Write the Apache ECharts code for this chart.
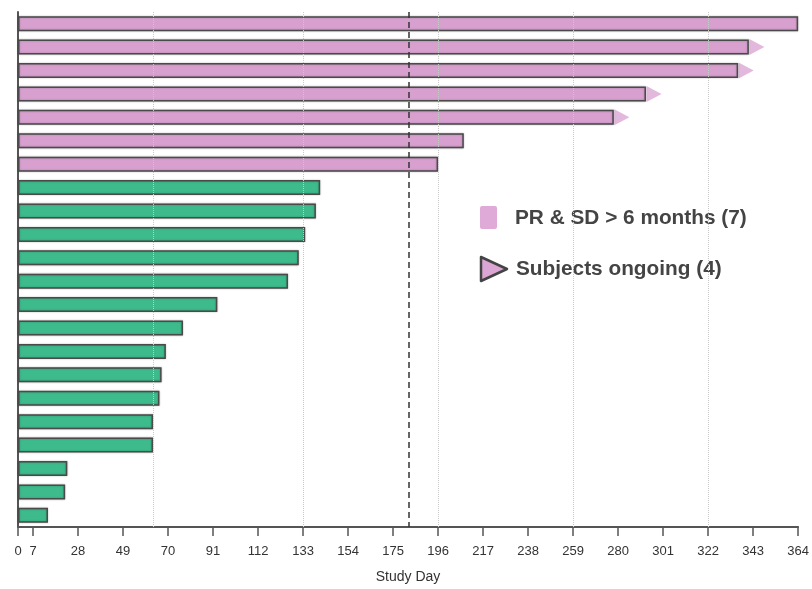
<!DOCTYPE html>
<html>
<head>
<meta charset="utf-8">
<script src="https://cdn.jsdelivr.net/npm/echarts@6/dist/echarts.min.js"></script>
<style>
html,body{margin:0;padding:0;background:#fff;}
#chart{width:812px;height:589px;}
</style>
</head>
<body>
<div id="chart"></div>
<script>
// Subjects, top to bottom
var subjects = ['S1','S2','S3','S4','S5','S6','S7','S8','S9','S10','S11','S12','S13','S14','S15','S16','S17','S18','S19','S20','S21','S22'];
// Duration (study day) for PR & SD > 6 months (pink), null otherwise
var longResponders = [364, 341, 336, 293, 278, 208, 196, null, null, null, null, null, null, null, null, null, null, null, null, null, null, null];
// Duration for other subjects (green)
var otherSubjects = [null, null, null, null, null, null, null, 141, 139, 134, 131, 126, 93, 77, 69, 67, 66, 63, 63, 23, 22, 14];
// Subjects ongoing (1 = ongoing)
var ongoing = [0, 1, 1, 1, 1, 0, 0, 0, 0, 0, 0, 0, 0, 0, 0, 0, 0, 0, 0, 0, 0, 0];
// Tick labels on x axis
var xTicks = [0, 7, 28, 49, 70, 91, 112, 133, 154, 175, 196, 217, 238, 259, 280, 301, 322, 343, 364];
// Dotted reference lines and 6-month dashed line
var gridDays = [63, 133, 196, 259, 322];
var sixMonths = 182.5;

var ongoingPoints = [];
for (var i = 0; i < subjects.length; i++) {
  if (ongoing[i]) {
    var v = longResponders[i] != null ? longResponders[i] : otherSubjects[i];
    ongoingPoints.push([v, subjects[i]]);
  }
}

var PINK = '#d7a0cf';
var GREEN = '#3dbb8c';
var BORDER = '#4a4a4a';

var chart = echarts.init(document.getElementById('chart'), null, {renderer: 'canvas'});
chart.setOption({
  animation: false,
  backgroundColor: '#fff',
  grid: {left: 18, right: 13, top: 12, bottom: 61, containLabel: false},
  xAxis: {
    type: 'value', min: 0, max: 364, interval: 7,
    name: 'Study Day', nameLocation: 'middle', nameGap: 43,
    nameTextStyle: {fontFamily: 'Liberation Sans', fontSize: 14, color: '#333'},
    axisLine: {show: true, lineStyle: {color: '#555', width: 2}},
    axisTick: {show: true, length: 9, customValues: xTicks, lineStyle: {color: '#555', width: 1.5}},
    axisLabel: {customValues: xTicks, margin: 18, fontFamily: 'Liberation Sans', fontSize: 13, color: '#333'},
    splitLine: {show: false}
  },
  yAxis: {
    type: 'category', data: subjects, inverse: true,
    axisLine: {show: true, lineStyle: {color: '#555', width: 2}},
    axisTick: {show: false},
    axisLabel: {show: false},
    splitLine: {show: false}
  },
  series: [
    {
      type: 'bar', data: longResponders, barWidth: 15, barGap: '-100%',
      itemStyle: {color: PINK, borderColor: BORDER, borderWidth: 1.5, shadowColor: 'rgba(0,0,0,0.25)', shadowBlur: 2}
    },
    {
      type: 'bar', data: otherSubjects, barWidth: 15, barGap: '-100%',
      itemStyle: {color: GREEN, borderColor: BORDER, borderWidth: 1.5, shadowColor: 'rgba(0,0,0,0.25)', shadowBlur: 2},
      markLine: {
        silent: true, symbol: 'none', z: 10,
        label: {show: false},
        data: gridDays.map(function (d) { return {xAxis: d, lineStyle: {type: 'dotted', color: '#c8c8c8', width: 1}}; })
          .concat([{xAxis: sixMonths, lineStyle: {type: [6, 4], color: '#333', width: 1.5}}])
      }
    },
    {
      type: 'scatter', data: ongoingPoints, symbol: 'triangle', symbolRotate: -90,
      symbolSize: [16, 15], symbolOffset: [8, 0],
      itemStyle: {color: '#dba6d4'}, z: 1
    }
  ],
  graphic: [
    {type: 'rect', left: 480, top: 206, shape: {width: 17, height: 23, r: 2}, style: {fill: '#e0aad8'}},
    {type: 'text', x: 515, y: 218, style: {text: 'PR & SD > 6 months (7)', font: 'bold 20.8px "Liberation Sans"', fill: '#444', textVerticalAlign: 'middle'}},
    {type: 'polygon', shape: {points: [[481, 257], [507, 269], [481, 281]]}, style: {fill: '#dba6d4', stroke: '#444', lineWidth: 2.5, lineJoin: 'round'}},
    {type: 'text', x: 516, y: 269, style: {text: 'Subjects ongoing (4)', font: 'bold 20.8px "Liberation Sans"', fill: '#444', textVerticalAlign: 'middle'}}
  ]
});
</script>
</body>
</html>
